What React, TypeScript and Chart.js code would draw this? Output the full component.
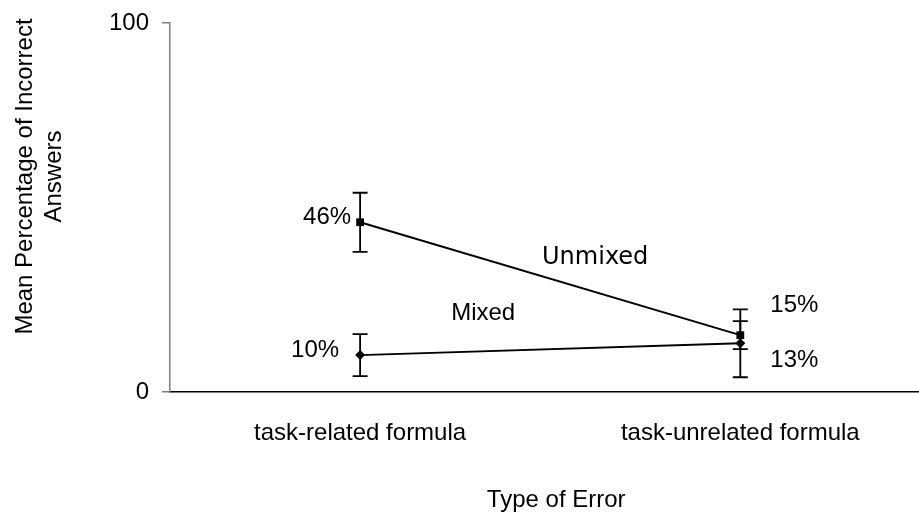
import React, { useEffect, useRef } from "react";
import { Chart, registerables } from "chart.js";

Chart.register(...registerables);

const categories = ["task-related formula", "task-unrelated formula"];
const unmixedValues = [46, 15.4];
const unmixedErrors = [8, 3.8];
const unmixedLabels = ["46%", "15%"];
const mixedValues = [10, 13.2];
const mixedErrors = [5.7, 9.2];
const mixedLabels = ["10%", "13%"];
const yTickValues = [0, 100];
const seriesNames = ["Unmixed", "Mixed"];
const yTitleLines = ["Mean Percentage of Incorrect", "Answers"];
const xTitle = "Type of Error";

const FONT = "'Liberation Sans', Arial, Helvetica, sans-serif";

const annotationPlugin = {
  id: "annotations",
  afterDatasetsDraw(chart: any) {
    const { ctx, scales } = chart;
    const xs = scales.x;
    const ys = scales.y;
    ctx.save();
    const drawErr = (vals: number[], errs: number[]) => {
      vals.forEach((v, i) => {
        const px = xs.getPixelForValue(i);
        const top = ys.getPixelForValue(v + errs[i]);
        const bot = ys.getPixelForValue(v - errs[i]);
        ctx.strokeStyle = "#000";
        ctx.lineWidth = 1.8;
        ctx.beginPath();
        ctx.moveTo(px, top);
        ctx.lineTo(px, bot);
        ctx.moveTo(px - 7.5, top);
        ctx.lineTo(px + 7.5, top);
        ctx.moveTo(px - 7.5, bot);
        ctx.lineTo(px + 7.5, bot);
        ctx.stroke();
      });
    };
    drawErr(unmixedValues, unmixedErrors);
    drawErr(mixedValues, mixedErrors);

    ctx.fillStyle = "#000";
    ctx.font = `24px ${FONT}`;
    ctx.textBaseline = "alphabetic";
    const u0x = xs.getPixelForValue(0), u0y = ys.getPixelForValue(unmixedValues[0]);
    const m0x = xs.getPixelForValue(0), m0y = ys.getPixelForValue(mixedValues[0]);
    const u1x = xs.getPixelForValue(1), u1y = ys.getPixelForValue(unmixedValues[1]);
    const m1x = xs.getPixelForValue(1), m1y = ys.getPixelForValue(mixedValues[1]);
    ctx.textAlign = "right";
    ctx.fillText(unmixedLabels[0], u0x - 9, u0y + 2);
    ctx.fillText(mixedLabels[0], m0x - 21, m0y + 2);
    ctx.textAlign = "left";
    ctx.fillText(unmixedLabels[1], u1x + 30, u1y - 23);
    ctx.fillText(mixedLabels[1], m1x + 30, m1y + 24);

    ctx.textAlign = "center";
    ctx.fillText(seriesNames[1], (m0x + m1x) / 2 - 67, (m0y + m1y) / 2 - 29);
    ctx.font = `24px 'DejaVu Sans', sans-serif`;
    ctx.fillText(seriesNames[0], (u0x + u1x) / 2 + 45, (u0y + u1y) / 2 - 15);

    ctx.font = `24px ${FONT}`;
    ctx.textAlign = "center";
    ctx.fillText(xTitle, (u0x + u1x) / 2 + 6, 507);
    const cy = (ys.top + ys.bottom) / 2 - 31;
    [32, 61].forEach((bx, i) => {
      ctx.save();
      ctx.translate(bx, cy);
      ctx.rotate(-Math.PI / 2);
      ctx.fillText(yTitleLines[i], 0, 0);
      ctx.restore();
    });
    ctx.restore();
  },
};

export default function App() {
  const canvasRef = useRef<HTMLCanvasElement | null>(null);

  useEffect(() => {
    if (!canvasRef.current) return;
    const chart = new Chart(canvasRef.current, {
      type: "line",
      data: {
        datasets: [
          {
            label: seriesNames[0],
            data: unmixedValues.map((v, i) => ({ x: i, y: v })),
            borderColor: "#000",
            backgroundColor: "#000",
            borderWidth: 1.9,
            pointStyle: "rect",
            pointRadius: 5.5,
            pointBorderWidth: 0,
            tension: 0,
          },
          {
            label: seriesNames[1],
            data: mixedValues.map((v, i) => ({ x: i, y: v })),
            borderColor: "#000",
            backgroundColor: "#000",
            borderWidth: 1.9,
            pointStyle: "rectRot",
            pointRadius: 5,
            pointBorderWidth: 0,
            tension: 0,
          },
        ],
      },
      options: {
        responsive: false,
        animation: false,
        layout: { autoPadding: false, padding: { top: 23, left: 0, right: 0, bottom: 0 } },
        plugins: {
          legend: { display: false },
          tooltip: { enabled: false },
          title: { display: false },
        },
        scales: {
          x: {
            type: "linear",
            min: -0.5,
            max: 1.47,
            afterBuildTicks: (scale: any) => {
              scale.ticks = categories.map((_, i) => ({ value: i }));
            },
            afterFit: (scale: any) => {
              scale.height = 124;
              scale.paddingLeft = 0;
              scale.paddingRight = 0;
            },
            grid: { display: false, drawTicks: false },
            border: { display: true, color: "#000", width: 1.5 },
            ticks: {
              color: "#000",
              font: { family: FONT, size: 24 },
              padding: 27,
              maxRotation: 0,
              autoSkip: false,
              callback: (v: any) => categories[v as number] ?? "",
            },
          },
          y: {
            type: "linear",
            min: 0,
            max: 100,
            afterBuildTicks: (scale: any) => {
              scale.ticks = yTickValues.map((v) => ({ value: v }));
            },
            afterFit: (scale: any) => {
              scale.width = 170;
              scale.paddingTop = 0;
              scale.paddingBottom = 0;
            },
            grid: {
              display: true,
              drawOnChartArea: false,
              drawTicks: true,
              tickLength: 8,
              color: "#808080",
              lineWidth: 1.5,
            },
            border: { display: true, color: "#808080", width: 1.5 },
            ticks: {
              color: "#000",
              font: { family: FONT, size: 24 },
              padding: 13,
            },
          },
        },
      },
      plugins: [annotationPlugin],
    });
    return () => chart.destroy();
  }, []);

  return (
    <div style={{ position: "absolute", left: 0, top: 0, width: 919, height: 516, background: "#fff" }}>
      <canvas ref={canvasRef} width={919} height={516} style={{ display: "block" }} />
    </div>
  );
}
